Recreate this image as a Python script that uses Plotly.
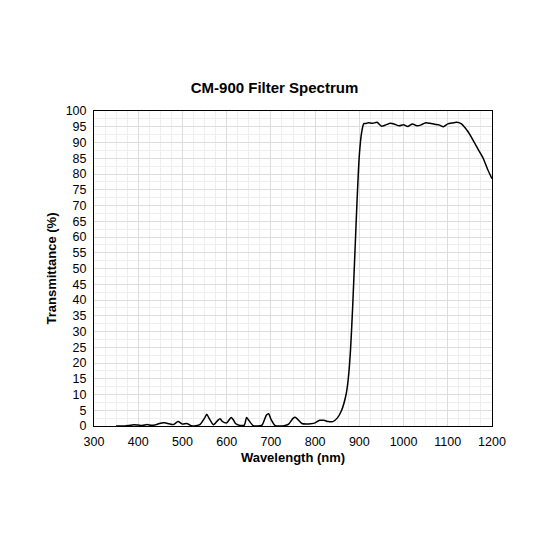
import plotly.graph_objects as go

wavelength = [350,370,380,390,400,410,420,430,440,450,460,470,480,490,500,510,520,530,540,550,555,560,570,580,585,590,600,610,615,620,630,640,645,650,660,670,680,690,695,700,710,720,730,740,750,755,760,770,780,790,800,810,820,830,840,850,860,870,875,880,885,890,895,900,905,910,915,920,930,940,950,960,970,980,990,1000,1010,1020,1030,1040,1050,1060,1070,1080,1090,1100,1110,1120,1130,1140,1150,1160,1170,1180,1190,1200]
transmittance = [0,0,0.2,0.4,0.3,0.2,0.5,0.2,0.4,0.9,1.0,0.7,0.5,1.4,0.6,0.8,0.1,0.1,0.5,2.5,3.7,2.5,0.4,1.8,2.3,1.5,1.0,2.7,2.0,0.8,0.2,0.3,2.7,1.8,0.1,0,0.3,3.5,3.9,2.2,0.1,0,0.1,0.6,2.4,2.8,2.2,0.8,0.6,0.7,1.0,1.8,1.8,1.4,1.4,2.5,5,10,15,24,38,55,72,86,93,96,96,96.3,96.1,96.4,95.2,95.6,96.1,95.8,95.3,95.6,95.1,95.9,95.3,95.6,96.3,96.1,95.8,95.6,95,95.9,96.2,96.4,96.0,94.5,92.5,90,87.5,85,81.5,78.5]

fig = go.Figure(go.Scatter(x=wavelength, y=transmittance, mode="lines", line=dict(color="black", width=1.5, shape="spline", smoothing=0.6)))
axis = dict(showline=True, linecolor="black", linewidth=1, mirror=True, ticks="", showgrid=True, gridcolor="#dddddd", gridwidth=1,
            zeroline=False, tickfont=dict(size=12.5, color="black"), automargin=False)
fig.update_xaxes(**axis, range=[300,1200], dtick=100, ticklabelstandoff=4, minor=dict(dtick=25, showgrid=True, gridcolor="#eeeeee"),
                 title=dict(text="<b>Wavelength (nm)</b>", font=dict(size=13, color="black"), standoff=4))
fig.update_yaxes(**axis, range=[0,100], dtick=5, ticklabelstandoff=4, minor=dict(dtick=2.5, showgrid=True, gridcolor="#eeeeee"),
                 title=dict(text="<b>Transmittance (%)</b>", font=dict(size=13, color="black"), standoff=6))
fig.update_layout(width=533, height=533, plot_bgcolor="white", paper_bgcolor="white", showlegend=False,
                  font=dict(family="Liberation Sans, Arial, sans-serif"),
                  title=dict(text="<b>CM-900 Filter Spectrum</b>", x=0.5, xanchor="center", y=0.86, font=dict(size=15, color="black")),
                  margin=dict(l=86, r=49, t=103, b=115))
fig.write_html("out.html")
